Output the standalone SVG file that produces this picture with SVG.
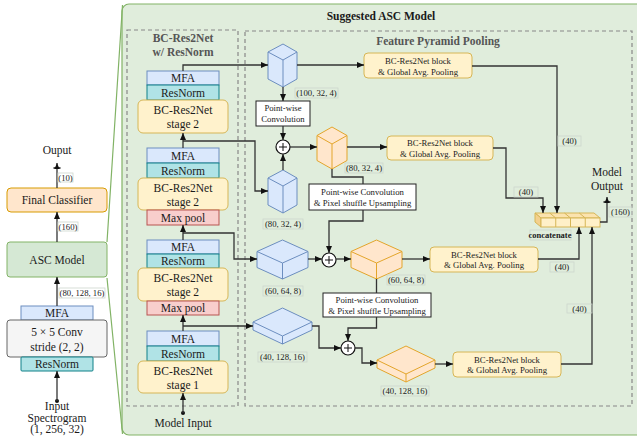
<svg xmlns="http://www.w3.org/2000/svg" width="637" height="436" viewBox="0 0 637 436">
<defs>
<style>
.t{font-family:"Liberation Serif","Times New Roman",serif;fill:#1a1a1a;text-anchor:middle}
.big{font-size:11.5px}
.sm{font-size:8.7px}
.b{font-weight:bold}
.gray{fill:#555}
.lb{fill:none;stroke:#cdd6cd;stroke-width:0.8}
.c{fill:none;stroke:#333;stroke-width:1.3}
.blue{fill:#dae8fc;stroke:#6c8ebf;stroke-width:1}
.org{fill:#ffe6cc;stroke:#e3a52b;stroke-width:1}
.yel{fill:#fff2cc;stroke:#d6b656;stroke-width:1}
.teal{fill:#b0e3e6;stroke:#0e8088;stroke-width:1}
.red{fill:#f8cecc;stroke:#b85450;stroke-width:1}
.wbox{fill:#fff;stroke:#222;stroke-width:1}
.dash{fill:none;stroke:#888;stroke-width:1.2;stroke-dasharray:4 3}
.plus{fill:#fff;stroke:#111;stroke-width:1.2}
</style>
<marker id="a" markerUnits="userSpaceOnUse" markerWidth="7" markerHeight="6" refX="7" refY="3" orient="auto"><path d="M0,0 L7,3 L0,6 z" fill="#111"/></marker>
<marker id="ab" markerUnits="userSpaceOnUse" markerWidth="8" markerHeight="8" refX="7" refY="4" orient="auto"><path d="M1,1.5 L7,4 L1,6.5 z" fill="#111"/><path d="M2,0.5 L2,7.5" stroke="#111" stroke-width="1.5"/></marker>
</defs>
<rect width="637" height="436" fill="#fff"/>

<!-- main container -->
<g id="suggested">
<rect x="122" y="4" width="530" height="431" rx="7" fill="#e0eddc" stroke="#82b366" stroke-width="1.2"/>
<path d="M107,242 L122.5,5 M107,278 L122.5,434" stroke="#82b366" stroke-width="1.2" fill="none"/>
<text class="t big b" x="381" y="20">Suggested ASC Model</text>
</g>
<g id="bcres2net-group">
<rect class="dash" x="127" y="30" width="111" height="376"/>
<text class="t big b gray" x="183" y="42">BC-Res2Net</text>
<text class="t big b gray" x="183" y="56">w/ ResNorm</text>
</g>
<g id="fpp-group">
<rect class="dash" x="245" y="31" width="387" height="375"/>
<text class="t big b gray" x="438" y="45">Feature Pyramid Pooling</text>
</g>

<!-- left column -->
<g id="output-text"><text class="t big" x="57" y="154">Ouput</text></g>
<g id="final-classifier"><rect x="7" y="188" width="100" height="24" rx="4" fill="#ffe6cc" stroke="#d79b00"/><text class="t big" x="57" y="204">Final Classifier</text></g>
<g id="asc-model"><rect x="7" y="242" width="100" height="35" rx="3" fill="#d5e8d4" stroke="#82b366"/><text class="t big" x="57" y="264">ASC Model</text></g>
<g id="mfa0"><rect class="blue" x="21" y="306" width="72" height="14"/><text class="t big" x="57" y="317">MFA</text></g>
<g id="conv"><rect x="7" y="320" width="100" height="37" rx="3" fill="#f5f5f5" stroke="#666"/><text class="t big" x="57" y="336">5 × 5 Conv</text><text class="t big" x="57" y="351">stride (2, 2)</text></g>
<g id="resnorm0"><rect class="teal" x="21" y="357" width="72" height="14" rx="1"/><text class="t big" x="57" y="368">ResNorm</text></g>
<g id="input-text"><text class="t big" x="57" y="410">Input</text><text class="t big" x="57" y="421.5">Spectrogram</text><text class="t big" x="57" y="433">(1, 256, 32)</text></g>

<!-- stack -->
<g id="mfa1"><rect class="blue" x="147" y="71" width="72" height="14"/><text class="t big" x="183" y="82">MFA</text></g>
<g id="resnorm1"><rect class="teal" x="147" y="85" width="72" height="15"/><text class="t big" x="183" y="96.5">ResNorm</text></g>
<g id="stage2a"><rect class="yel" x="138" y="100" width="90" height="33" rx="5"/><text class="t big" x="183" y="114">BC-Res2Net</text><text class="t big" x="183" y="128">stage 2</text></g>
<g id="mfa2"><rect class="blue" x="147" y="148" width="72" height="15"/><text class="t big" x="183" y="159.5">MFA</text></g>
<g id="resnorm2"><rect class="teal" x="147" y="163" width="72" height="15"/><text class="t big" x="183" y="174.5">ResNorm</text></g>
<g id="stage2b"><rect class="yel" x="138" y="178" width="90" height="32" rx="5"/><text class="t big" x="183" y="192">BC-Res2Net</text><text class="t big" x="183" y="206">stage 2</text></g>
<g id="maxpool1"><rect class="red" x="147" y="210" width="72" height="15"/><text class="t big" x="183" y="221.5">Max pool</text></g>
<g id="mfa3"><rect class="blue" x="147" y="240" width="72" height="14"/><text class="t big" x="183" y="251">MFA</text></g>
<g id="resnorm3"><rect class="teal" x="147" y="254" width="72" height="14"/><text class="t big" x="183" y="265">ResNorm</text></g>
<g id="stage2c"><rect class="yel" x="138" y="268" width="90" height="33" rx="5"/><text class="t big" x="183" y="282">BC-Res2Net</text><text class="t big" x="183" y="296">stage 2</text></g>
<g id="maxpool2"><rect class="red" x="147" y="301" width="72" height="14"/><text class="t big" x="183" y="312">Max pool</text></g>
<g id="mfa4"><rect class="blue" x="147" y="331" width="72" height="15"/><text class="t big" x="183" y="342.5">MFA</text></g>
<g id="resnorm4"><rect class="teal" x="147" y="346" width="72" height="15"/><text class="t big" x="183" y="357.5">ResNorm</text></g>
<g id="stage1"><rect class="yel" x="138" y="361" width="90" height="32" rx="5"/><text class="t big" x="183" y="375">BC-Res2Net</text><text class="t big" x="183" y="389">stage 1</text></g>
<g id="model-input-text"><text class="t big" x="183" y="427">Model Input</text></g>

<!-- FPP cubes -->
<g id="cube-100-32-4">
<path class="blue" d="M283,44 L297,52 L297,79 L283,87 L268,79 L268,52 Z"/>
<path d="M268,52 L283,60 L297,52 M283,60 L283,87" fill="none" stroke="#6c8ebf"/>
<rect class="lb" x="295" y="88" width="43" height="10"/><text class="t sm" x="316.5" y="96">(100, 32, 4)</text>
</g>
<g id="cube-80-32-4">
<path class="blue" d="M283,170 L297,178 L297,205 L283,213 L268,205 L268,178 Z"/>
<path d="M268,178 L283,186 L297,178 M283,186 L283,213" fill="none" stroke="#6c8ebf"/>
<rect class="lb" x="263" y="219" width="40" height="10"/><text class="t sm" x="283" y="227">(80, 32, 4)</text>
</g>
<g id="cube-80-32-4-out">
<path class="org" d="M332,127 L347,135.5 L347,160.5 L332,169 L317,160.5 L317,135.5 Z"/>
<path d="M317,135.5 L332,144 L347,135.5 M332,144 L332,169" fill="none" stroke="#e3a52b"/>
<rect class="lb" x="345" y="163" width="38" height="10"/><text class="t sm" x="364" y="171">(80, 32, 4)</text>
</g>
<g id="cube-60-64-8">
<path class="blue" d="M282.5,240 L308,251.5 L308,267.5 L282.5,279 L257,267.5 L257,251.5 Z"/>
<path d="M257,251.5 L282.5,263 L308,251.5 M282.5,263 L282.5,279" fill="none" stroke="#6c8ebf"/>
<rect class="lb" x="263" y="286" width="40" height="10"/><text class="t sm" x="283" y="294">(60, 64, 8)</text>
</g>
<g id="cube-60-64-8-out">
<path class="org" d="M376.5,240 L402,251.5 L402,267.5 L376.5,279 L351,267.5 L351,251.5 Z"/>
<path d="M351,251.5 L376.5,263 L402,251.5 M376.5,263 L376.5,279" fill="none" stroke="#e3a52b"/>
<rect class="lb" x="387" y="275" width="38" height="10"/><text class="t sm" x="406" y="283">(60, 64, 8)</text>
</g>
<g id="cube-40-128-16">
<path class="blue" d="M282.5,308 L312,322 L312,330 L282.5,344 L253,330 L253,322 Z"/>
<path d="M253,322 L282.5,336 L312,322 M282.5,336 L282.5,344" fill="none" stroke="#6c8ebf"/>
<rect class="lb" x="258" y="352" width="49" height="10"/><text class="t sm" x="282.5" y="360">(40, 128, 16)</text>
</g>
<g id="cube-40-128-16-out">
<path class="org" d="M406,346 L435,360 L435,368 L406,382 L377,368 L377,360 Z"/>
<path d="M377,360 L406,374 L435,360 M406,374 L406,382" fill="none" stroke="#e3a52b"/>
<rect class="lb" x="381" y="386" width="48" height="10"/><text class="t sm" x="405" y="394">(40, 128, 16)</text>
</g>

<!-- FPP boxes -->
<g id="pw-conv"><rect class="wbox" x="256" y="101" width="54" height="25"/><text class="t sm" x="283" y="111">Point-wise</text><text class="t sm" x="283" y="122">Convolution</text></g>
<g id="pw-pixel-1"><rect class="wbox" x="309" y="184" width="107" height="26"/><text class="t sm" x="362.5" y="195">Point-wise Convolution</text><text class="t sm" x="362.5" y="206">&amp; Pixel shuffle Upsampling</text></g>
<g id="pw-pixel-2"><rect class="wbox" x="323" y="293" width="108" height="24"/><text class="t sm" x="377" y="302.5">Point-wise Convolution</text><text class="t sm" x="377" y="313.5">&amp; Pixel shuffle Upsampling</text></g>
<g id="plus1"><circle class="plus" cx="283" cy="147" r="7"/><path d="M279,147 H287 M283,143 V151" stroke="#111"/></g>
<g id="plus2"><circle class="plus" cx="329" cy="260" r="7"/><path d="M325,260 H333 M329,256 V264" stroke="#111"/></g>
<g id="plus3"><circle class="plus" cx="348" cy="348" r="7"/><path d="M344,348 H352 M348,344 V352" stroke="#111"/></g>
<g id="gap1"><rect class="yel" x="364" y="53" width="108" height="25" rx="4"/><text class="t sm" x="418" y="64">BC-Res2Net block</text><text class="t sm" x="418" y="75">&amp; Global Avg. Pooling</text></g>
<g id="gap2"><rect class="yel" x="387" y="136" width="106" height="24" rx="4"/><text class="t sm" x="440" y="146">BC-Res2Net block</text><text class="t sm" x="440" y="156.5">&amp; Global Avg. Pooling</text></g>
<g id="gap3"><rect class="yel" x="430" y="247" width="108" height="25" rx="4"/><text class="t sm" x="484" y="257.5">BC-Res2Net block</text><text class="t sm" x="484" y="268">&amp; Global Avg. Pooling</text></g>
<g id="gap4"><rect class="yel" x="453" y="352" width="108" height="25" rx="4"/><text class="t sm" x="507" y="362.5">BC-Res2Net block</text><text class="t sm" x="507" y="373">&amp; Global Avg. Pooling</text></g>
<g id="concatenate">
<path d="M535,213 L594,213 L600,218 L541,218 Z" fill="#fbe3ae" stroke="#d6b656"/>
<path d="M535,213 L541,218 L541,227 L535,222 Z" fill="#f3d08e" stroke="#d6b656"/>
<rect x="541" y="218" width="59" height="9" fill="#fff0c8" stroke="#d6b656"/>
<path d="M555.75,218 V227 M570.5,218 V227 M585.25,218 V227 M549.75,213 L555.75,218 M564.5,213 L570.5,218 M579.25,213 L585.25,218" stroke="#d6b656" fill="none"/>
<rect class="lb" x="530" y="230" width="41" height="10"/>
<text class="t b" style="font-size:8.5px" x="550" y="238">concatenate</text>
</g>
<g id="model-output-text"><text class="t big" x="607" y="176">Model</text><text class="t big" x="607" y="190">Output</text></g>

<!-- connectors -->
<g id="connectors">
<circle cx="57" cy="401" r="2" fill="#111"/>
<path class="c" d="M57,401 V371" marker-end="url(#a)"/>
<path class="c" d="M57,306 V277" marker-end="url(#a)"/>
<path class="c" d="M57,242 V212" marker-end="url(#a)"/>
<path class="c" d="M57,188 V163" marker-end="url(#ab)"/>
<circle cx="183" cy="413" r="2" fill="#111"/>
<path class="c" d="M183,413 V393" marker-end="url(#a)"/>
<path class="c" d="M183,331 V315" marker-end="url(#a)"/>
<path class="c" d="M183,326 H253" marker-end="url(#a)"/>
<path class="c" d="M183,240 V225" marker-end="url(#a)"/>
<path class="c" d="M183,233 H234 V259 H257" marker-end="url(#a)"/>
<path class="c" d="M183,148 V133" marker-end="url(#a)"/>
<path class="c" d="M183,141 H255 V191 H268" marker-end="url(#a)"/>
<path class="c" d="M183,71 V65 H268" marker-end="url(#a)"/>
<path class="c" d="M297,65 H364" marker-end="url(#a)"/>
<path class="c" d="M283,87 V101" marker-end="url(#a)"/>
<path class="c" d="M283,126 V140" marker-end="url(#a)"/>
<path class="c" d="M283,170 V154" marker-end="url(#a)"/>
<path class="c" d="M290,147 H317" marker-end="url(#a)"/>
<path class="c" d="M347,147 H387" marker-end="url(#a)"/>
<path class="c" d="M332,169 V177 H363 V184"/>
<path class="c" d="M363,210 V221 H329 V253" marker-end="url(#a)"/>
<path class="c" d="M308,259 H322" marker-end="url(#a)"/>
<path class="c" d="M336,259 H351" marker-end="url(#a)"/>
<path class="c" d="M402,259 H430" marker-end="url(#a)"/>
<path class="c" d="M376.5,279 V293"/>
<path class="c" d="M376.5,317 V328 H348 V341" marker-end="url(#a)"/>
<path class="c" d="M312,326 H319 V348 H341" marker-end="url(#a)"/>
<path class="c" d="M355,348 H362 V363 H377" marker-end="url(#a)"/>
<path class="c" d="M435,364 H453" marker-end="url(#a)"/>
<path class="c" d="M472,66 H557 V213" marker-end="url(#a)"/>
<path class="c" d="M493,148 H506 V198 H543 V213" marker-end="url(#a)"/>
<path class="c" d="M538,259 H579 V227" marker-end="url(#a)"/>
<path class="c" d="M561,364 H592 V227" marker-end="url(#a)"/>
<path class="c" d="M600,222 H607 V197" marker-end="url(#ab)"/>
</g>
<g id="edge-labels">
<rect class="lb" x="58" y="173" width="15" height="9"/><text class="t sm" x="65.5" y="180.5">(10)</text>
<rect class="lb" x="58" y="222" width="20" height="9"/><text class="t sm" x="68" y="229.5">(160)</text>
<rect class="lb" x="59" y="288" width="46" height="10"/><text class="t sm" x="82" y="296">(80, 128, 16)</text>
<rect class="lb" x="558" y="136" width="23" height="10"/><text class="t sm" x="569.5" y="144">(40)</text>
<rect class="lb" x="514" y="187" width="24" height="10"/><text class="t sm" x="526" y="195">(40)</text>
<rect class="lb" x="609" y="207" width="23" height="10"/><text class="t sm" x="620.5" y="215">(160)</text>
<rect class="lb" x="550" y="262" width="24" height="10"/><text class="t sm" x="562" y="270">(40)</text>
<rect class="lb" x="567" y="304" width="25" height="9"/><text class="t sm" x="579.5" y="311.5">(40)</text>
</g>
</svg>
